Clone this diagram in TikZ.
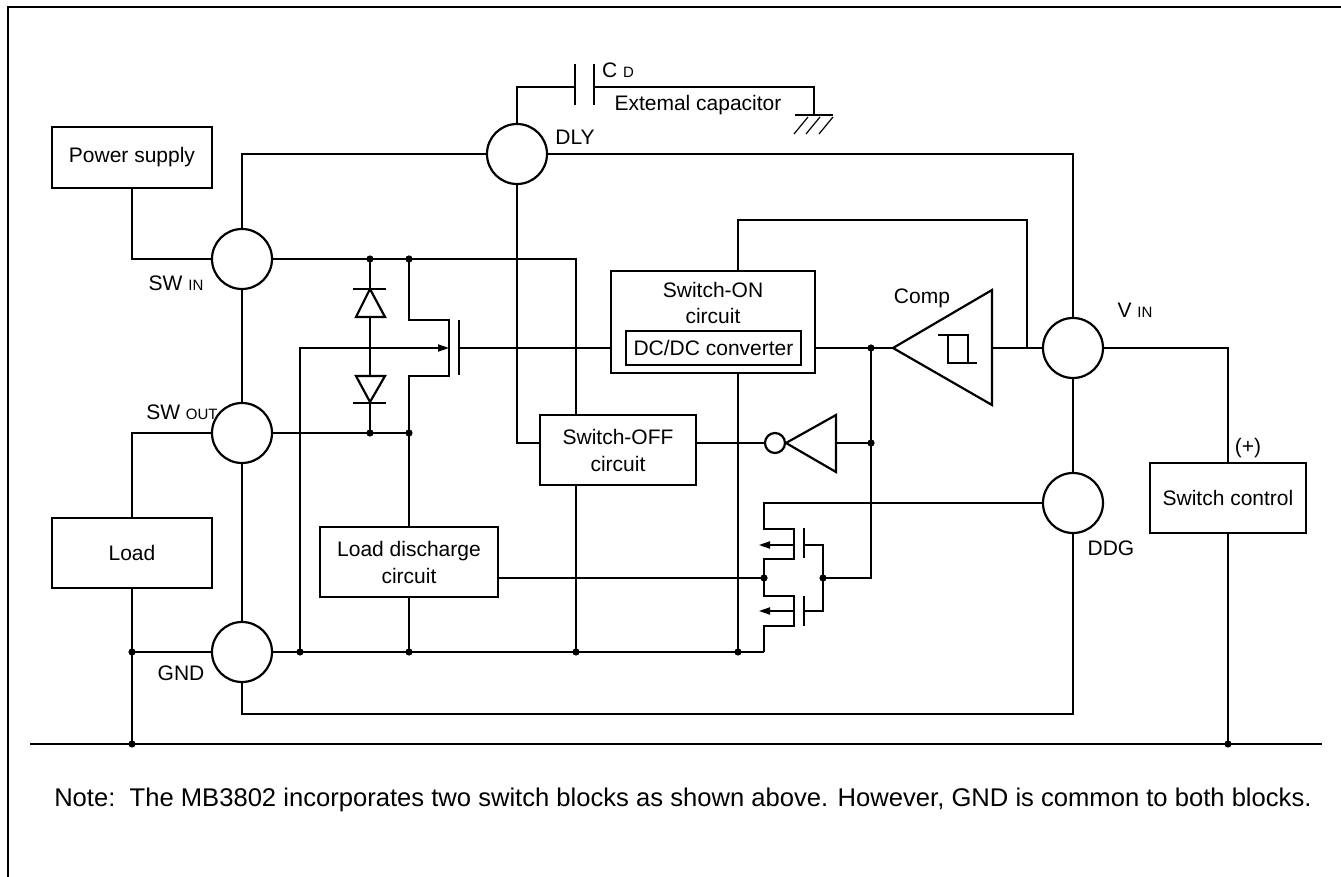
\documentclass[tikz,border=0pt]{standalone}
\usepackage{fontspec}
\setmainfont{Liberation Sans}
\usetikzlibrary{arrows.meta}

\tikzset{
  pin/.style={circle, draw, line width=1.1pt, fill=white, minimum size=30pt, inner sep=0pt},
  blk/.style={draw, line width=1.1pt, align=center, inner sep=0pt},
  jdot/.style={circle, fill, inner sep=0pt, minimum size=3.6pt},
  tip/.style={-{Triangle[length=5.5pt,width=3.6pt]}},
}
\newcommand\lbl{\fontsize{10.5}{13.5}\selectfont}
\newcommand\subtxt[1]{{\fontsize{7.5}{8}\selectfont #1}}

\begin{document}
\begin{tikzpicture}[x=0.5pt, y=-0.5pt, line width=0.6pt, font=\lbl]

        \useasboundingbox (0,0) rectangle (1341,877);
        \draw [line width=1.1pt] (8,877) -- (8,7) -- (1341,7);

        \node [pin] (swin) at (242,259) {};
        \node [pin] (swout) at (242,433) {};
        \node [pin] (gnd) at (242,652) {};
        \node [pin] (dly) at (517,154) {};
        \node [pin] (vin) at (1073,348) {};
        \node [pin] (ddg) at (1073,503) {};

        \node [blk, minimum width=80pt, minimum height=30.5pt] (power) at (132,157.5) {Power supply};
        \node [blk, minimum width=80pt, minimum height=35pt] (load) at (132,553) {Load};
        \node [blk, minimum width=102pt, minimum height=51pt] (swon) at (713,322) {};
        \node (swontop) at (713,290) {Switch-ON};
        \node (swonbot) at (713,316) {circuit};
        \node [draw, minimum width=87.5pt, minimum height=17pt, inner sep=0pt] (dcdc) at (713.5,348) {DC/DC converter};
        \node [blk, minimum width=78pt, minimum height=35pt] (swoff) at (618,450) {Switch-OFF\\circuit};
        \node [blk, minimum width=89pt, minimum height=35pt] (ldis) at (409,562) {Load discharge\\circuit};
        \node [blk, minimum width=78pt, minimum height=35pt] (swctl) at (1228,498) {Switch control};

        \coordinate (d1) at (370,259);
        \coordinate (m1) at (409,259);
        \coordinate (d2) at (370,433);
        \coordinate (m2) at (409,433);
        \coordinate (g1) at (300,652);
        \coordinate (g2) at (409,652);
        \coordinate (g3) at (576,652);
        \coordinate (g4) at (738,652);
        \coordinate (cin) at (871,348);
        \coordinate (cinv) at (871,443);
        \coordinate (nd) at (764,578);
        \coordinate (ng) at (823,578);
        \coordinate (jl) at (132,652);
        \coordinate (jb1) at (132,744);
        \coordinate (jb2) at (1228,744);
        \coordinate (pk) at (1073,714);
        \coordinate (fb) at (1027,348);
        \coordinate (ctip) at (893,348);
        \coordinate (cout) at (992,348);

        % package outline
        \draw (swin) -- (swout) -- (gnd);
        \draw (swin.north) |- (dly.west);
        \draw (dly.east) -| (vin.north);
        \draw (vin) -- (ddg);
        \draw (gnd.south) |- (pk) -- (ddg.south);

        % external capacitor
        \draw (dly.north) |- (575,87);
        \draw [line width=1.1pt] (575,64) -- (575,105) (594,64) -- (594,105);
        \draw (594,87) -| (814,115);
        \draw [line width=1.1pt] (795,115) -- (833,115);
        \foreach \h in {808,820,833}
            \draw (\h,117) -- ++(-14,17);

        \draw (power.south) |- (swin.west);
        \draw (swout.west) -| (load.north);
        \draw (load.south) -- (jb1);
        \draw (gnd.west) -- (jl);
        \draw (30,744) -- (1322,744);

        \draw (swin.east) -| (swoff.north -| g3);
        \draw (swoff.south -| g3) -- (g3);
        \draw (swout.east) -- (m2);
        \draw (gnd.east) -- (764,652);

        % diodes
        \draw (d1) -- (370,289);
        \draw [line width=1.1pt] (353,289) -- (386,289);
        \draw [line width=1.1pt] (370,289) -- (356,317) -- (385,317) -- cycle;
        \draw (370,317) -- (370,376);
        \draw [line width=1.1pt] (356,376) -- (385,376) -- (370,402) -- cycle;
        \draw [line width=1.1pt] (353,403) -- (386,403);
        \draw (370,403) -- (d2);

        % main switch
        \draw (m1) |- (449,320) -- (449,376) -| (m2);
        \draw [line width=1.4pt] (459,320) -- (459,375);
        \draw (459,348) -- (dcdc -| swon.west);
        \draw [tip] (g1) |- (449,348);
        \draw (m2) -- (ldis.north);
        \draw (ldis.south) -- (g2);

        \draw (dly.south) |- ([yshift=3.5pt]swoff.west);
        \draw (swon.north -| g4) |- (1027,220) -- (fb);
        \draw (swon.south -| g4) -- (g4);

        % comparator
        \draw [line width=1.1pt] (ctip) -- (992,290) -- (992,405) -- cycle;
        \draw (938,335) -- (968,335) -- (968,363);
        \draw (948,335) -- (948,363) -- (977,363);
        \node (cmp) at (922,298) {Comp};
        \draw (dcdc -| swon.east) -- (ctip);
        \draw (cout) -- (vin.west);

        % inverter
        \node [circle, draw, line width=1.1pt, minimum size=10pt, inner sep=0pt] (bub) at (775,443) {};
        \draw [line width=1.1pt] (786,443) -- (836,415) -- (836,472) -- cycle;
        \draw ([yshift=3.5pt]swoff.east) -- (bub.west);
        \draw (836,443) -- (cinv);
        \draw (cin) -- (871,578) -- (ng);

        % discharge switches
        \draw (ddg.west) -| (764,529) -- (794,529) -- (794,559) -- (764,559) -- (764,596)
            -- (794,596) -- (794,626) -- (764,626) -- (764,652);
        \draw [line width=1.4pt] (804,528) -- (804,558) (804,596) -- (804,626);
        \draw (804,545) -| (823,611) -- (804,611);
        \draw [tip] (794,545) -- (759,545);
        \draw [tip] (794,611) -- (759,611);
        \draw (nd) -- (nd -| ldis.east);

        \draw (vin.east) -| (swctl.north);
        \draw (swctl.south) -- (jb2);

        \foreach \j in {d1,m1,d2,m2,g1,g2,g3,g4,cin,cinv,nd,ng,jl,jb1,jb2}
            \node [jdot] at (\j) {};

        \node (cdl) at (618,70) {C\ \subtxt{D}};
        \node (capl) at (698,105) {Extemal capacitor};
        \node (dlyl) at (575,137) {DLY};
        \node (swinl) at (176,283) {SW\ \subtxt{IN}};
        \node (swoutl) at (182,412) {SW\ \subtxt{OUT}};
        \node (gndl) at (181,673) {GND};
        \node (vinl) at (1135,310) {V\ \subtxt{IN}};
        \node (ddgl) at (1111,548) {DDG};
        \node (plus) at (1248,448) {(+)};

        \node [anchor=west, font=\fontsize{12.8}{14}\selectfont] (note) at (47,800)
            {Note:\ \ The MB3802 incorporates two switch blocks as shown above. However, GND is common to both blocks.};

\end{tikzpicture}
\end{document}
